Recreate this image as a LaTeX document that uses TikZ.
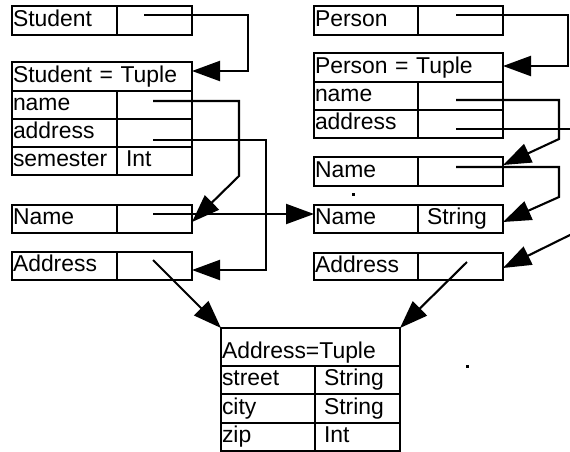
\documentclass[tikz,border=0pt]{standalone}
\usepackage{fontspec}
\setmainfont{Liberation Sans}
\usetikzlibrary{arrows.meta,calc,positioning}

\tikzset{
  cell/.style={draw, line width=2.1pt, outer sep=0pt, inner ysep=0pt, anchor=north west,
    minimum height=28pt, text height=16pt, text depth=5pt, align=left,
    font=\fontsize{22.9pt}{26pt}\selectfont},
  key/.style={cell, inner xsep=1pt, text width=#1},
  val/.style={cell, inner xsep=9pt, text width=#1},
  wire/.style={line width=2.1pt},
  ptr/.style={wire, -{Triangle[length=28pt,width=20pt]}},
}

\begin{document}
\begin{tikzpicture}[x=1pt,y=-1pt]
    \path[use as bounding box, fill=white] (0,0) rectangle (570,451);

    \node[key=103pt, minimum height=29pt] (stu) at (12,6) {Student};
    \node[val=57pt, minimum height=29pt] (stuv) at (stu.north east) {};
    \node[key=178pt, minimum height=29pt] (stt) at (12,62) {Student = Tuple};
    \node[key=103pt] (stn) at (stt.south west) {name};
    \node[val=57pt] (stnv) at (stn.north east) {};
    \node[key=103pt] (sta) at (stn.south west) {address};
    \node[val=57pt] (stav) at (sta.north east) {};
    \node[key=103pt] (sts) at (sta.south west) {semester};
    \node[val=57pt] (stsv) at (sts.north east) {Int};
    \node[key=103pt] (nam) at (12,205) {Name};
    \node[val=57pt] (namv) at (nam.north east) {};
    \node[key=103pt] (adr) at (12,252) {Address};
    \node[val=57pt] (adrv) at (adr.north east) {};

    \node[key=102pt, minimum height=29pt] (per) at (314,6) {Person};
    \node[val=67pt, minimum height=29pt] (perv) at (per.north east) {};
    \node[key=187pt, minimum height=29pt] (ptt) at (314,53) {Person = Tuple};
    \node[key=102pt] (ptn) at (ptt.south west) {name};
    \node[val=67pt] (ptnv) at (ptn.north east) {};
    \node[key=102pt] (pta) at (ptn.south west) {address};
    \node[val=67pt] (ptav) at (pta.north east) {};
    \node[key=102pt, minimum height=29pt] (pnm) at (314,157) {Name};
    \node[val=67pt, minimum height=29pt] (pnmv) at (pnm.north east) {};
    \node[key=102pt] (pns) at (314,205) {Name};
    \node[val=67pt] (pnsv) at (pns.north east) {String};
    \node[key=102pt, minimum height=27pt] (pad) at (314,253) {Address};
    \node[val=67pt, minimum height=27pt] (padv) at (pad.north east) {};

    \node[key=177pt, minimum height=38pt, text height=28pt, text depth=6pt] (att) at (221,328) {Address=Tuple};
    \node[key=92pt] (ast) at (att.south west) {street};
    \node[val=67pt] (astv) at (ast.north east) {String};
    \node[key=92pt, minimum height=29pt] (aci) at (ast.south west) {city};
    \node[val=67pt, minimum height=29pt] (aciv) at (aci.north east) {String};
    \node[key=92pt] (azi) at (aci.south west) {zip};
    \node[val=67pt] (aziv) at (azi.north east) {Int};

    \coordinate (s1) at ($(stuv.center)+(-10.5,-5.5)$);
    \coordinate (s2) at ($(stnv.center)+(-1.5,-4)$);
    \coordinate (s3) at ($(stav.center)+(-1.5,7)$);
    \coordinate (s4) at ($(namv.center)+(-1.5,-5)$);
    \coordinate (s5) at ($(adrv.center)+(-1.5,-6)$);
    \coordinate (s6) at ($(perv.center)+(-4.5,-5.5)$);
    \coordinate (s7) at ($(ptnv.center)+(-4.5,4)$);
    \coordinate (s8) at ($(ptav.center)+(-4.5,5)$);
    \coordinate (s9) at ($(pnmv.center)+(-4.5,-4.5)$);
    \coordinate (s10) at ($(padv.center)+(6.5,-4.5)$);

    \coordinate (t1) at ($(stt.east)+(0,-5.5)$);
    \coordinate (t2) at ($(namv.east)+(0,3)$);
    \coordinate (t3) at ($(adrv.east)+(0,4)$);
    \coordinate (t4) at ($(pns.west)+(0,-5)$);
    \coordinate (t6) at ($(ptt.east)+(0,-1.5)$);
    \coordinate (t7) at ($(pnmv.east)+(0,-6.5)$);
    \coordinate (t9) at ($(pnsv.east)+(0,3)$);
    \coordinate (t10) at ($(padv.east)+(0,1.5)$);
    \coordinate (e8) at ($(ptav.center)+(120,5)$);
    \coordinate (e10) at ($(t10)+(70,-34.5)$);

    \draw[ptr] (s1) -- ++(104,0) |- (t1);
    \draw[ptr] (s2) -- ++(86,0) -- ++(0,75) -- (t2);
    \draw[ptr] (s3) -- ++(113,0) |- (t3);
    \draw[ptr] (s4) -- (t4);
    \draw[ptr] (s5) -- (att.north west);
    \draw[ptr] (s6) -- ++(112,0) |- (t6);
    \draw[ptr] (s7) -- ++(103,0) -- ++(0,39) -- (t7);
    \draw[wire] (s8) -- (e8);
    \draw[ptr] (s9) -- ++(103,0) -- ++(0,30) -- (t9);
    \draw[ptr] (e10) -- (t10);
    \draw[ptr] (s10) -- (att.north east);

    \fill (351.5,192.5) rectangle ++(3,3);
    \fill (465.5,364.5) rectangle ++(3,3);
\end{tikzpicture}
\end{document}
